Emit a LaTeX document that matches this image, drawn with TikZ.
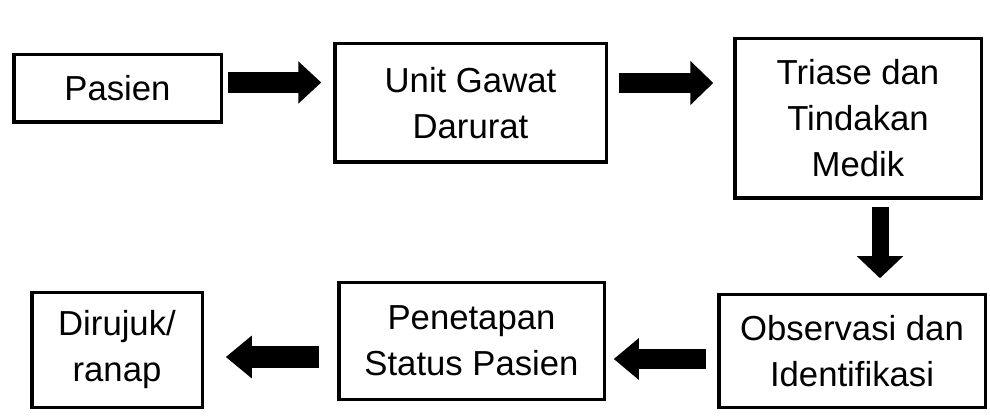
\documentclass[tikz,border=0pt]{standalone}
\usepackage{fontspec}
\setmainfont{Liberation Sans}
\usetikzlibrary{arrows.meta}
\begin{document}
\begin{tikzpicture}[x=1pt,y=-1pt,
  box/.style={draw, line width=3.5pt, inner sep=0pt, align=center,
    font=\fontsize{34.7}{46}\selectfont},
  blockarrow/.style n args={3}{line width=#1, -{Triangle[length=#2,width=#3]}},
]
\useasboundingbox (0,0) rectangle (990,419);
\node[box, minimum width=207.5pt, minimum height=67.5pt] (pasien) at (117.5,88.5) {Pasien};
\node[box, minimum width=271.5pt, minimum height=118.5pt] (ugd) at (470.5,103) {Unit Gawat\\Darurat};
\node[box, minimum width=246.5pt, minimum height=159.5pt] (triase) at (858,118.5) {Triase dan\\Tindakan\\Medik};
\node[box, minimum width=266.5pt, minimum height=112.5pt] (obs) at (852,351) {Observasi dan\\Identifikasi};
\node[box, minimum width=265.5pt, minimum height=116.5pt] (pen) at (471.5,341) {Penetapan\\Status Pasien};
\node[box, minimum width=170.5pt, minimum height=114.5pt] (dir) at (117,350) {Dirujuk/\\ranap};

\coordinate (a1) at ([yshift=6pt]pasien.east);
\draw[blockarrow={21pt}{23pt}{41pt}, shorten <=4.75pt, shorten >=11.75pt] (a1) -- (a1 -| ugd.west);

\coordinate (a2) at ([yshift=20pt]ugd.east);
\draw[blockarrow={20pt}{23pt}{43pt}, shorten <=10.75pt, shorten >=19.75pt] (a2) -- (a2 -| triase.west);

\coordinate (a3) at ([xshift=22pt]triase.south);
\draw[blockarrow={17pt}{22pt}{45pt}, shorten <=6.75pt, shorten >=14.75pt] (a3) -- (a3 |- obs.north);

\coordinate (a4) at ([yshift=-8pt]obs.west);
\draw[blockarrow={20pt}{25pt}{40pt}, shorten <=10.75pt, shorten >=7.75pt] (a4) -- (a4 -| pen.east);

\coordinate (a5) at ([yshift=-16pt]pen.west);
\draw[blockarrow={21pt}{26pt}{41pt}, shorten <=17.75pt, shorten >=21.75pt] (a5) -- (a5 -| dir.east);
\end{tikzpicture}
\end{document}
